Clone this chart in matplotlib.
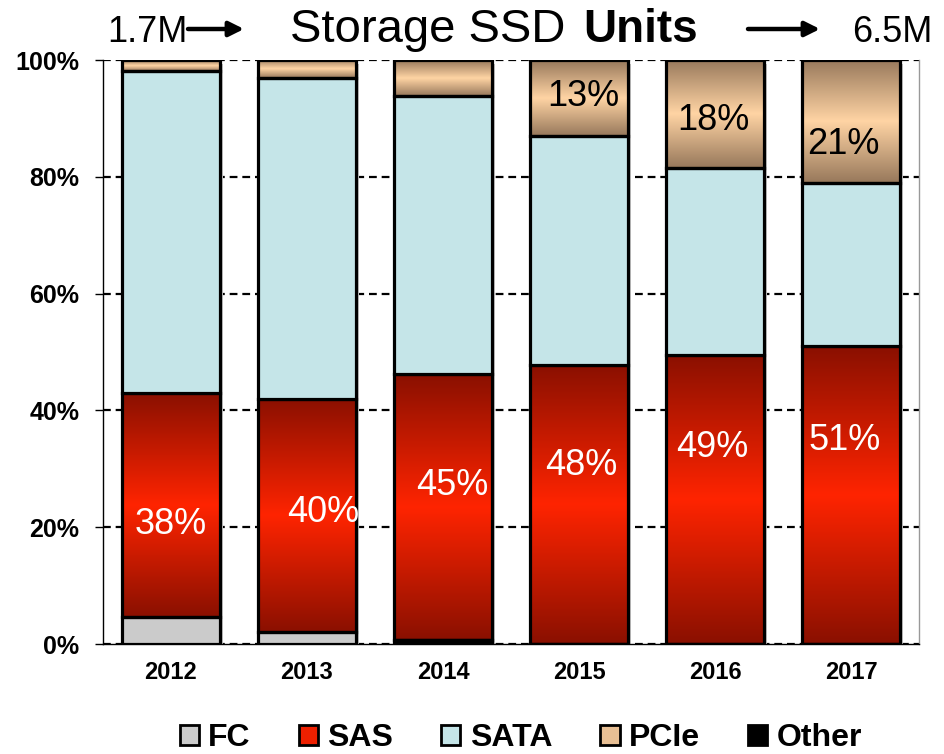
import numpy as np
import matplotlib.pyplot as plt
from matplotlib.colors import LinearSegmentedColormap
from matplotlib.patches import Patch

plt.rcParams['font.family'] = ['Liberation Sans', 'DejaVu Sans']

years = ['2012', '2013', '2014', '2015', '2016', '2017']
fc = [4.7, 2.1, 0.0, 0.0, 0.0, 0.0]
sas = [38.3, 39.9, 45.5, 47.8, 49.5, 51.0]
other = [0.0, 0.0, 0.7, 0.0, 0.0, 0.0]
sata = [55.2, 54.9, 47.7, 39.2, 32.0, 27.9]
pcie = [1.8, 3.1, 6.1, 13.0, 18.5, 21.1]
sas_labels = ['38%', '40%', '45%', '48%', '49%', '51%']
pcie_labels = ['', '', '', '13%', '18%', '21%']
series = ['FC', 'SAS', 'SATA', 'PCIe', 'Other']

W, H = 945, 754
fig = plt.figure(figsize=(W / 100, H / 100), dpi=100)
ax = fig.add_axes([103 / W, 1 - 644 / H, 816 / W, 584 / H])

x = np.arange(len(years))
bw = 0.715

sas_cmap = LinearSegmentedColormap.from_list('sas', ['#8a1000', '#ff2400', '#8a1000'])
pcie_cmap = LinearSegmentedColormap.from_list('pcie', ['#97785b', '#ffd4a4', '#97785b'])
grad = np.linspace(0, 1, 256).reshape(-1, 1)

# soft drop shadow behind each column
ax.bar(x + 0.025, 100, bottom=-0.6, width=bw, color='#c4c4c4', zorder=1, linewidth=0)

edge = dict(edgecolor='black', linewidth=2.3, zorder=4)
bottom = np.zeros(len(years))
b_other = ax.bar(x, other, bw, bottom=bottom, facecolor='black', **edge)
bottom += other
b_fc = ax.bar(x, fc, bw, bottom=bottom, facecolor='#cbcbcb', **edge)
bottom += fc
b_sas = ax.bar(x, sas, bw, bottom=bottom, facecolor='none', **edge)
bottom += sas
b_sata = ax.bar(x, sata, bw, bottom=bottom, facecolor='#c5e5e8', **edge)
bottom += sata
b_pcie = ax.bar(x, pcie, bw, bottom=bottom, facecolor='none', **edge)

for bars, cmap in [(b_sas, sas_cmap), (b_pcie, pcie_cmap)]:
    for p in bars:
        x0, y0 = p.get_x(), p.get_y()
        x1, y1 = x0 + p.get_width(), y0 + p.get_height()
        if y1 - y0 <= 0:
            continue
        im = ax.imshow(grad, cmap=cmap, extent=(x0, x1, y0, y1), aspect='auto',
                       origin='lower', zorder=3, interpolation='bilinear')
        im.set_clip_path(p)

# value labels
sas_y = [20.4, 22.6, 27.2, 30.5, 33.7, 34.8]
sas_dx = [0.0, 0.12, 0.07, 0.02, -0.02, -0.05]
for i, lab in enumerate(sas_labels):
    ax.text(x[i] + sas_dx[i], sas_y[i], lab, color='white', fontsize=26,
            ha='center', va='center', zorder=6)
pcie_y = [0, 0, 0, 93.8, 89.7, 85.6]
pcie_dx = [0, 0, 0, 0.03, -0.01, -0.06]
for i, lab in enumerate(pcie_labels):
    if lab:
        ax.text(x[i] + pcie_dx[i], pcie_y[i], lab, color='black', fontsize=26,
                ha='center', va='center', zorder=6)

ax.set_xlim(-0.5, len(years) - 0.5)
ax.set_ylim(0, 100)
ax.set_yticks([0, 20, 40, 60, 80, 100])
ax.set_yticklabels(['0%', '20%', '40%', '60%', '80%', '100%'], fontsize=18, fontweight='bold')
ax.set_xticks(x)
ax.set_xticklabels(years, fontsize=17, fontweight='bold')
ax.tick_params(axis='x', length=0, pad=12)
ax.tick_params(axis='y', length=6, width=1, direction='out', pad=11)
ax.yaxis.grid(True, color='black', linewidth=1.6, linestyle=(0, (3.5, 2.2)))
ax.set_axisbelow(True)
ax.spines['top'].set_visible(False)
ax.spines['right'].set_color('#999999')
ax.spines['right'].set_linewidth(1)
ax.spines['left'].set_linewidth(1)
ax.spines['bottom'].set_linewidth(1)

# title line
fig.text(107 / W, 1 - 42 / H, '1.7M', fontsize=26, ha='left', va='baseline')
fig.text(290 / W, 1 - 42 / H, 'Storage SSD', fontsize=34, ha='left', va='baseline')
fig.text(583 / W, 1 - 42 / H, 'Units', fontsize=33, fontweight='bold', ha='left', va='baseline')
fig.text(933 / W, 1 - 42 / H, '6.5M', fontsize=26, ha='right', va='baseline')
for xa, xb in [(188, 244), (748, 820)]:
    fig.add_artist(plt.Annotation('', xy=(xb / W, 1 - 29 / H), xytext=(xa / W, 1 - 29 / H),
                                  xycoords='figure fraction',
                                  arrowprops=dict(arrowstyle='-|>', lw=3.2, color='black',
                                                  mutation_scale=22, shrinkA=0, shrinkB=0)))

handles = [Patch(facecolor='#cbcbcb', edgecolor='black', linewidth=2),
           Patch(facecolor='#ee2000', edgecolor='black', linewidth=2),
           Patch(facecolor='#c5e5e8', edgecolor='black', linewidth=2),
           Patch(facecolor='#e8bf94', edgecolor='black', linewidth=2),
           Patch(facecolor='black', edgecolor='black', linewidth=2)]
leg = fig.legend(handles, series, loc='center', bbox_to_anchor=(521 / W, 1 - 738 / H),
                 ncol=5, frameon=False, handlelength=0.6, handleheight=0.6,
                 handletextpad=0.3, columnspacing=1.5,
                 prop=dict(size=23, weight='bold'))

fig.savefig('out.png', dpi=100)
